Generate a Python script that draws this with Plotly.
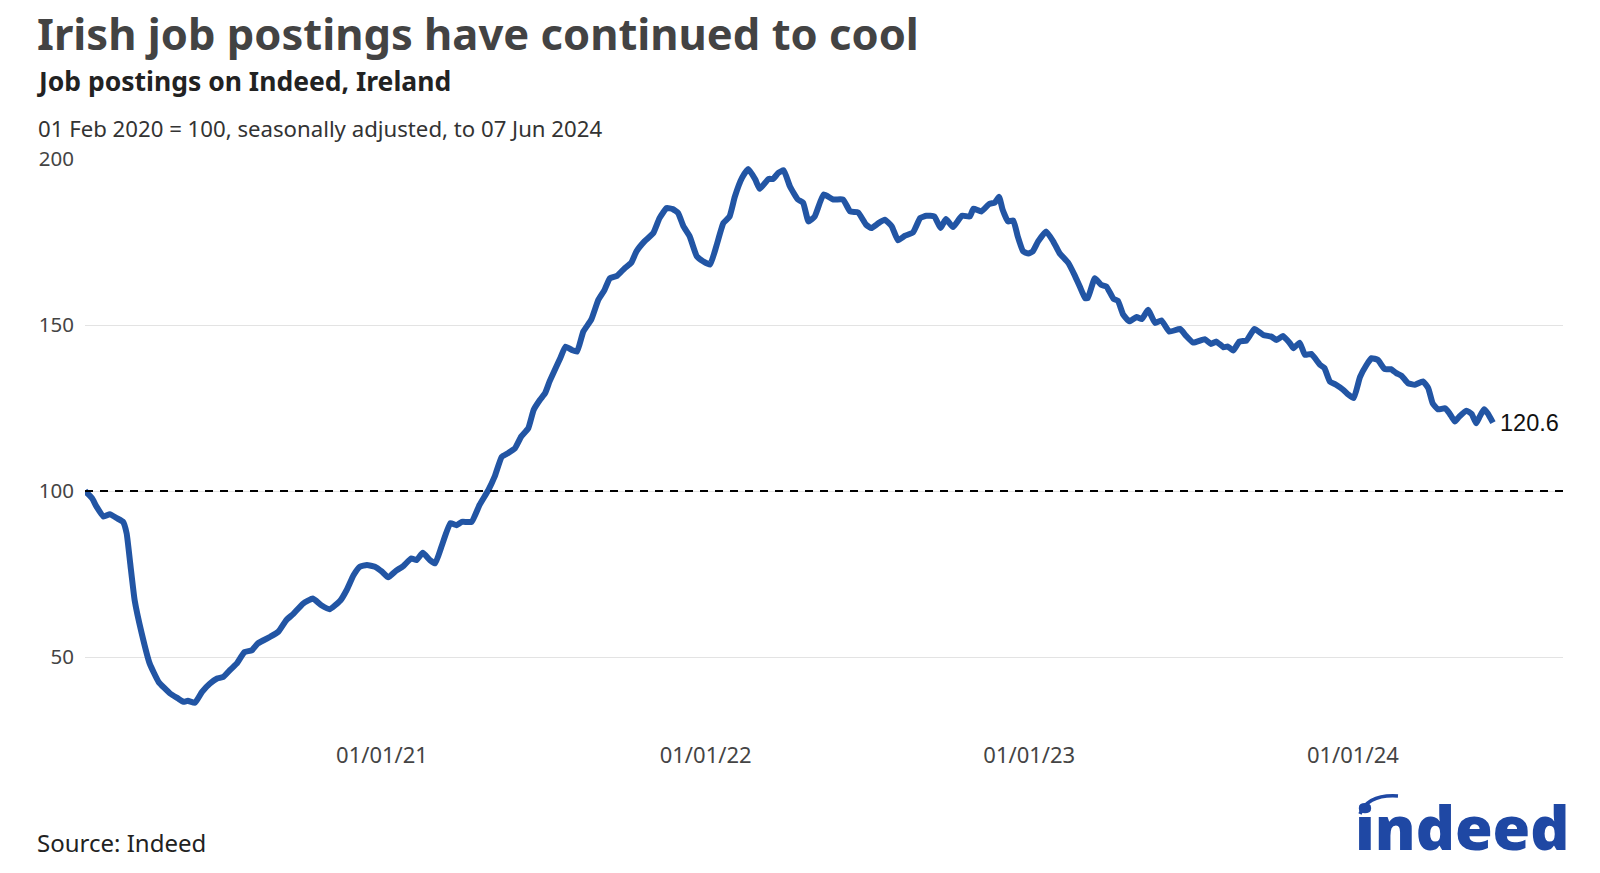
import pandas as pd
import plotly.graph_objects as go

# ---- data ----
start_date = "2020-02-01"
day_offsets = [
    0, 8, 13, 21, 28, 36, 43, 47, 51, 56, 64, 73, 83, 96, 105, 111, 116, 124, 132, 141,
    149, 156, 164, 171, 180, 188, 195, 209, 218, 227, 235, 246, 257, 267, 276, 288, 295, 303, 310, 318,
    327, 335, 342, 351, 359, 368, 374, 381, 389, 395, 402, 412, 419, 425, 436, 445, 455, 462, 470, 477,
    485, 492, 500, 506, 513, 519, 524, 536, 542, 549, 555, 562, 571, 579, 586, 592, 600, 609, 616, 622,
    631, 641, 648, 656, 663, 669, 675, 682, 690, 697, 705, 712, 720, 727, 733, 741, 748, 756, 761, 771,
    776, 782, 788, 795, 804, 810, 816, 823, 833, 844, 855, 863, 872, 881, 887, 895, 902, 910, 917, 925,
    934, 942, 949, 958, 965, 971, 979, 989, 998, 1002, 1011, 1020, 1026, 1031, 1035, 1041, 1047, 1052, 1058, 1064,
    1069, 1075, 1084, 1092, 1099, 1109, 1116, 1122, 1128, 1131, 1139, 1146, 1152, 1160, 1165, 1171, 1178, 1186, 1192, 1199,
    1207, 1214, 1223, 1235, 1242, 1250, 1263, 1270, 1276, 1284, 1289, 1295, 1302, 1310, 1319, 1329, 1338, 1344, 1351, 1359,
    1363, 1370, 1376, 1383, 1393, 1398, 1404, 1411, 1419, 1425, 1431, 1438, 1445, 1451, 1458, 1466, 1473, 1479, 1485, 1492,
    1500, 1509, 1515, 1520, 1526, 1534, 1539, 1545, 1550, 1558, 1564, 1569, 1573, 1578, 1582, 1588,
]
postings_index = [
    100.0, 97.8, 95.3, 92.3, 93.0, 91.8, 90.7, 87.2, 78.2, 67.1, 57.1, 48.0, 42.5, 39.0, 37.5, 36.5, 36.8, 36.2, 39.5, 42.0,
    43.5, 44.0, 46.2, 48.0, 51.5, 52.0, 54.1, 56.1, 57.6, 61.1, 63.0, 66.1, 67.6, 65.5, 64.4, 67.0, 70.1, 74.7, 77.2, 77.7,
    77.2, 75.7, 74.0, 76.0, 77.4, 79.7, 79.2, 81.4, 79.2, 78.2, 83.2, 90.3, 89.7, 90.7, 90.7, 95.8, 100.3, 104.3, 110.3, 111.4,
    112.9, 116.4, 118.9, 124.4, 127.4, 129.5, 133.0, 140.0, 143.5, 142.5, 142.0, 148.0, 151.6, 157.6, 160.6, 164.1, 164.8, 167.2, 168.7, 172.2,
    175.2, 177.7, 182.2, 185.2, 184.9, 183.7, 179.7, 176.7, 170.7, 169.2, 168.2, 173.7, 180.7, 182.7, 188.7, 194.3, 197.0, 193.8, 191.0, 194.0,
    194.0, 195.8, 196.6, 191.8, 187.8, 186.8, 181.2, 182.7, 189.3, 187.8, 187.8, 184.2, 183.9, 180.2, 179.2, 180.7, 181.7, 179.7, 175.5, 176.9,
    177.9, 182.2, 182.9, 182.7, 179.2, 181.9, 179.5, 182.9, 182.7, 185.0, 184.2, 186.5, 186.8, 188.6, 184.7, 181.2, 181.5, 176.7, 172.2, 171.5,
    172.2, 175.2, 178.2, 175.2, 171.7, 168.7, 165.1, 161.6, 158.1, 158.1, 164.1, 162.1, 161.6, 157.9, 157.3, 153.1, 151.1, 152.4, 151.8, 154.6,
    150.6, 151.4, 148.0, 148.8, 146.7, 144.7, 145.7, 144.3, 145.0, 143.3, 143.5, 142.3, 145.0, 145.3, 148.8, 147.0, 146.5, 145.5, 146.7, 144.5,
    143.0, 144.7, 141.0, 141.3, 138.0, 137.0, 133.0, 132.0, 130.5, 129.0, 128.0, 134.3, 137.8, 140.0, 139.5, 136.7, 136.7, 135.5, 134.7, 132.5,
    132.0, 133.0, 131.0, 126.4, 124.6, 124.9, 123.4, 120.9, 122.4, 124.2, 123.2, 120.4, 122.4, 124.6, 123.4, 120.6,
]
tick_dates = ["2021-01-01", "2022-01-01", "2023-01-01", "2024-01-01"]
tick_labels = ["01/01/21", "01/01/22", "01/01/23", "01/01/24"]
y_ticks = [50, 100, 150, 200]
last_label = "120.6"

dates = pd.Timestamp(start_date) + pd.to_timedelta(day_offsets, unit="D")

# ---- layout geometry (pixels) ----
W, H = 1600, 873
L, R, T, B = 85, 37, 159, 133
PW, PH = W - L - R, H - T - B


def px(x):
    return (x - L) / PW


def py(y):
    return (H - B - y) / PH


BLUE = "#2255a4"
FONT = "Noto Sans"

fig = go.Figure()
fig.add_trace(go.Scatter(
    x=dates, y=postings_index, mode="lines",
    line=dict(color=BLUE, width=6, shape="spline", smoothing=0.4),
    hoverinfo="skip", showlegend=False,
))

fig.add_shape(type="line", xref="paper", yref="y", x0=0, x1=1, y0=100, y1=100,
              line=dict(color="black", width=1.8, dash="8px,7px"), layer="above")

annotations = [
    dict(text="Irish job postings have continued to cool", x=px(35), y=py(33),
         font=dict(family=FONT, size=43.5, color="#434343", weight="bold")),
    dict(text="Job postings on Indeed, Ireland", x=px(35), y=py(81),
         font=dict(family=FONT, size=26.5, color="#222222", weight="bold")),
    dict(text="01 Feb 2020 = 100, seasonally adjusted, to 07 Jun 2024", x=px(36), y=py(128),
         font=dict(family=FONT, size=22.2, color="#333333")),
    dict(text="Source: Indeed", x=px(35), y=py(842),
         font=dict(family=FONT, size=24, color="#222222")),
]
for a in annotations:
    a.update(xref="paper", yref="paper", xanchor="left", yanchor="middle", showarrow=False)

# end label
annotations.append(dict(
    text=last_label, x=dates[-1], y=postings_index[-1], xref="x", yref="y",
    xanchor="left", yanchor="middle", xshift=5, showarrow=False,
    font=dict(family="Liberation Sans", size=23.5, color="#111111"),
))

# logo (text)
annotations.append(dict(
    text="indeed", x=px(1462), y=py(826), xref="paper", yref="paper",
    xanchor="center", yanchor="middle", showarrow=False,
    font=dict(family=FONT, size=61, color="#1f48a4", weight=900),
))

fig.add_shape(type="path", xref="paper", yref="paper",
              path=f"M {px(1360)} {py(814)} Q {px(1368)} {py(794)} {px(1398)} {py(796)}",
              line=dict(color="#1f48a4", width=3.5))

fig.update_layout(
    width=W, height=H,
    margin=dict(l=L, r=R, t=T, b=B, autoexpand=False),
    paper_bgcolor="white", plot_bgcolor="white",
    font=dict(family=FONT),
    annotations=annotations,
    showlegend=False,
    xaxis=dict(
        range=["2020-02-01", "2024-08-25"],
        tickvals=tick_dates, ticktext=tick_labels,
        showgrid=False, zeroline=False, showline=False, ticks="",
        tickfont=dict(family=FONT, size=22, color="#444444"),
    ),
    yaxis=dict(
        range=[25, 200], tickvals=y_ticks,
        showgrid=True, gridcolor="#e3e3e3", gridwidth=1,
        zeroline=False, showline=False, ticks="",
        ticklabelstandoff=10,
        tickfont=dict(family=FONT, size=20.5, color="#444444"),
    ),
)

fig.write_html("out.html")
